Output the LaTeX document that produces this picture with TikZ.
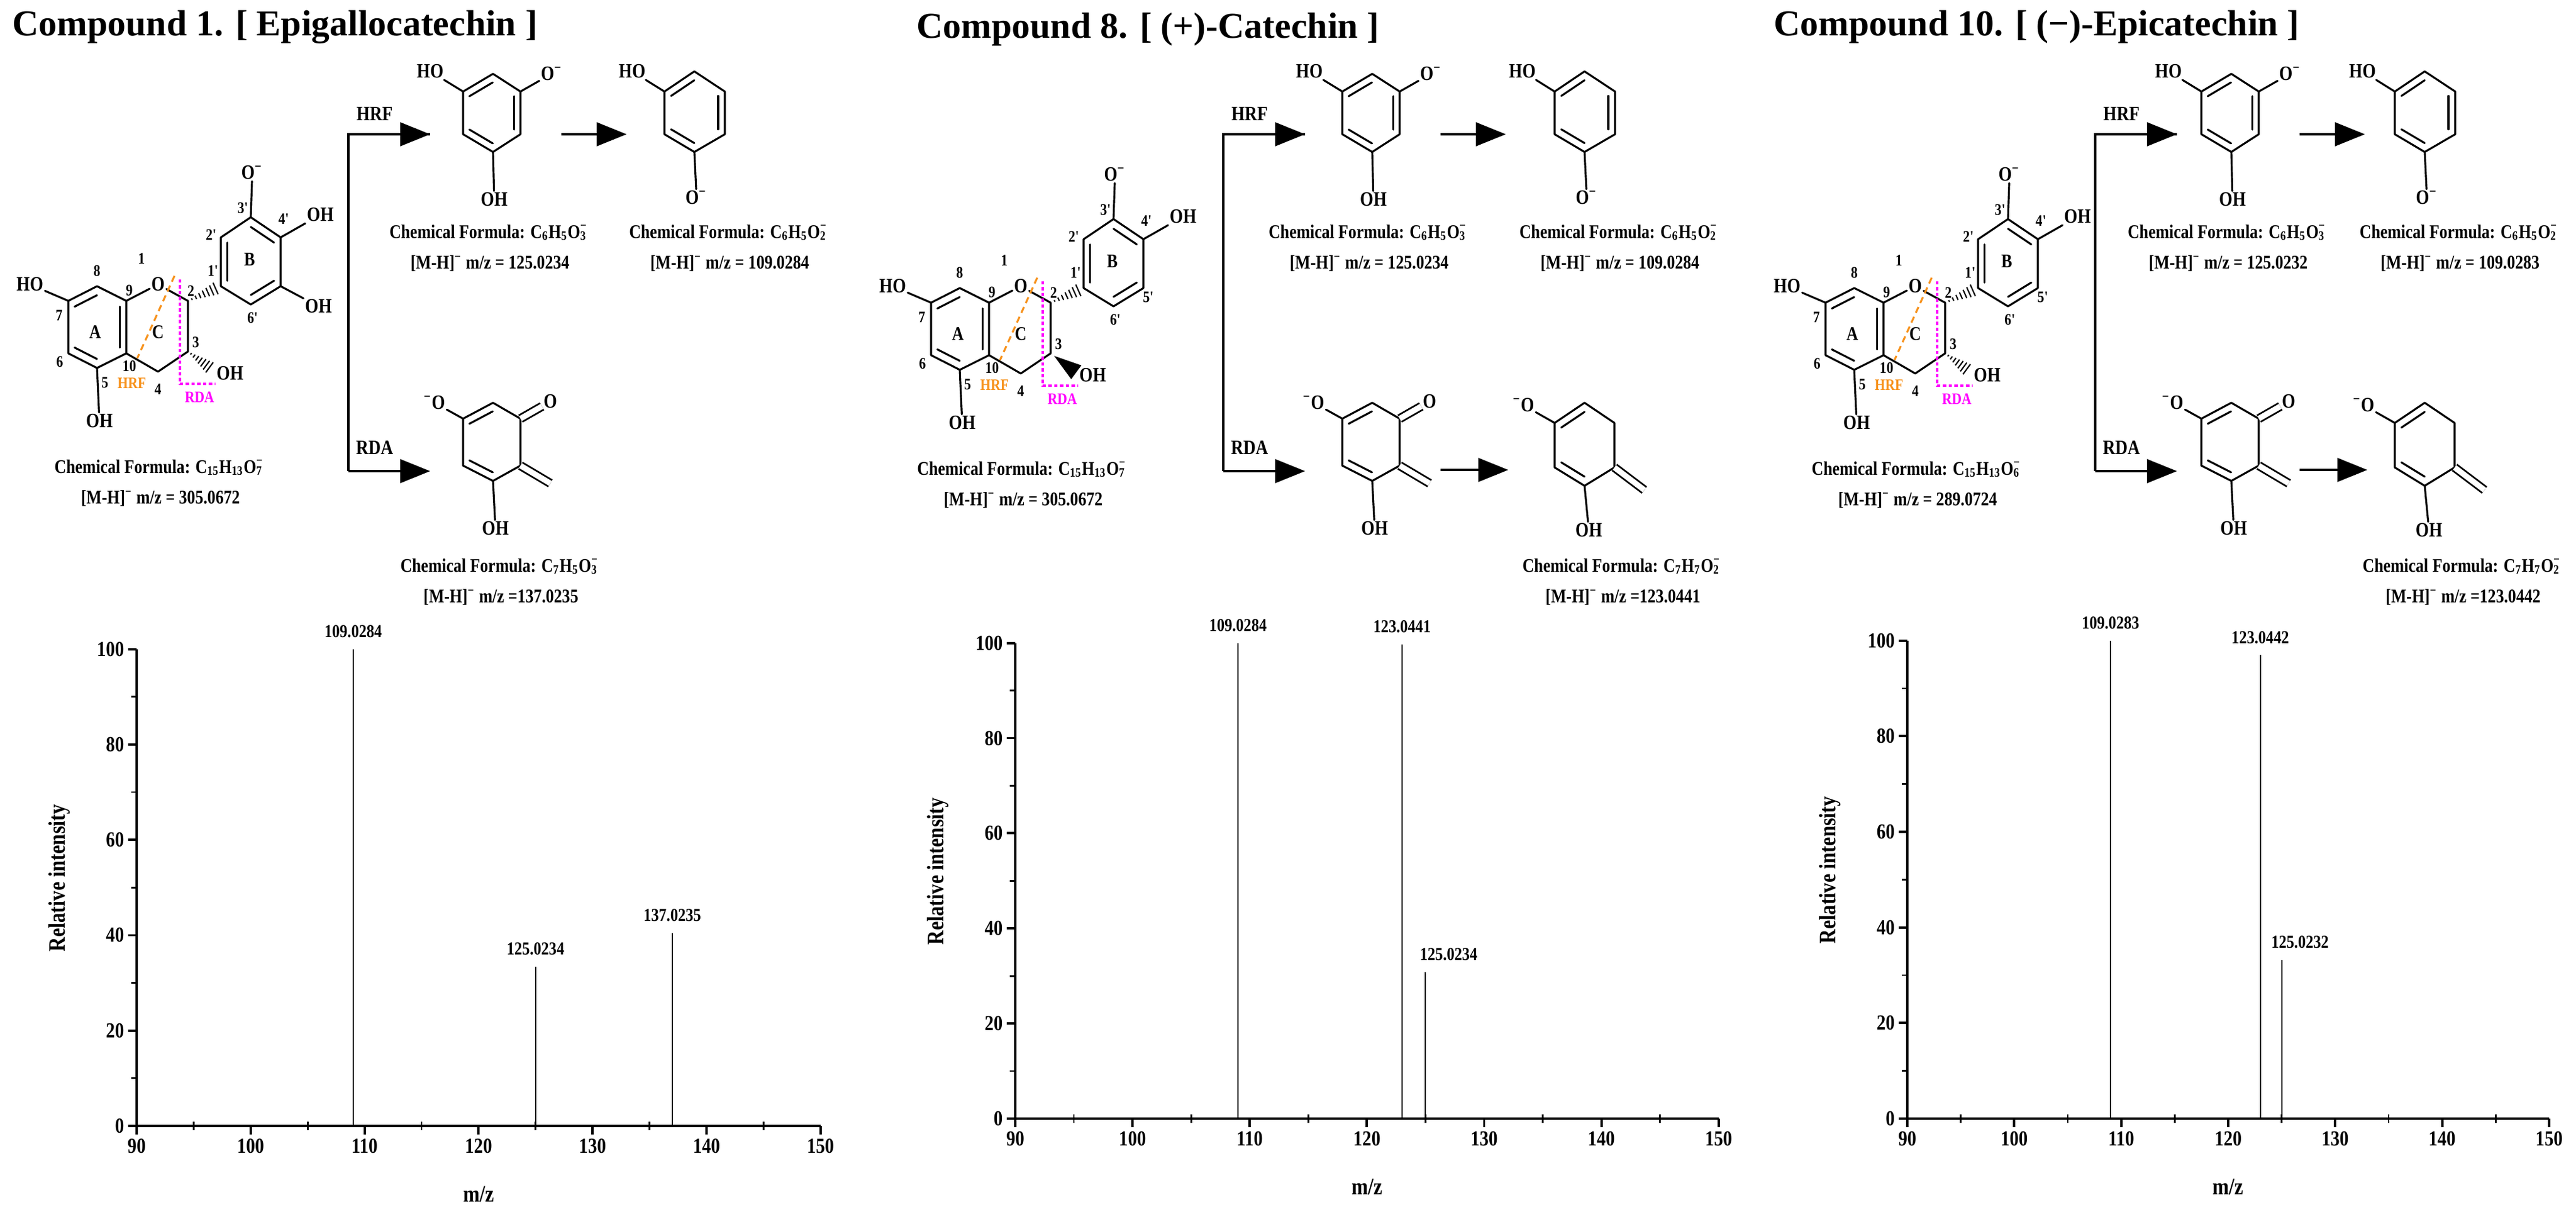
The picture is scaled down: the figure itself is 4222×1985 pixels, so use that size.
\documentclass[tikz,border=0pt]{standalone}
\usepackage{fontspec}
\setmainfont{Liberation Serif}
\newfontfamily\cond{Liberation Serif}[FakeStretch=0.84]
\usetikzlibrary{calc,arrows.meta}
\definecolor{hrfc}{RGB}{247,147,30}
\definecolor{rdac}{RGB}{255,0,255}
\newcommand\mns{\textsuperscript{\textminus}}
\newcommand\sbsp[2]{\rlap{\textsubscript{#1}}\textsuperscript{\textminus}\kern0.15em}
\newcommand\dbl[3]{\draw[bond] ($(#1)!.22!(#3)$) -- ($(#2)!.22!(#3)$);}
\newcommand\hashb[2]{\foreach \i in {0.12,0.24,...,0.96}{\path ($(#1)!\i!(#2)$) coordinate (hh); \draw[line width=0.6pt] ($(hh)!\i*3.5pt!90:(#2)$) -- ($(hh)!\i*3.5pt!-90:(#2)$);}}
\newcommand\formula[4]{\node[form] (f1) at (#1,#2) {Chemical Formula: #3}; \node[form] (f2) at (#1,#2+51) {[M-H]\mns{} m/z #4};}
\tikzset{
 bond/.style={line width=0.9pt,line cap=round,line join=round},
 dbond/.style={double,double distance=2.6pt,line width=0.8pt},
 lbl/.style={font=\cond\bfseries\fontsize{9.5}{10}\selectfont,inner sep=0.6pt},
 num/.style={font=\cond\bfseries\fontsize{7.5}{8}\selectfont,inner sep=0pt},
 form/.style={font=\cond\bfseries\fontsize{9}{10}\selectfont,inner sep=0pt},
 ttl/.style={font=\bfseries\fontsize{17}{18}\selectfont,anchor=west,inner sep=0pt},
 tick/.style={font=\cond\bfseries\fontsize{10}{11}\selectfont,inner sep=0pt},
 plab/.style={font=\cond\bfseries\fontsize{8.5}{9}\selectfont,inner sep=0pt,anchor=south,yshift=5pt},
 axl/.style={line width=1.1pt},
 peak/.style={line width=0.6pt},
 rarr/.style={line width=1.1pt,-{Triangle[length=14pt,width=11pt]}},
}
% main molecule: #1 variant 1=EGC,2=catechin,3=epicatechin; #2 formula; #3 mz
\newcommand\catechin[3]{%
\coordinate (c8) at (159,469); \coordinate (c9) at (207,493); \coordinate (c10) at (207,579);
\coordinate (c5) at (159,603); \coordinate (c6) at (112,579); \coordinate (c7) at (112,493);
\coordinate (ca) at (159,536);
\node[lbl] (o1) at (259,466) {O};
\coordinate (c2) at (308,493); \coordinate (c3) at (308,576); \coordinate (c4) at (259,609);
\coordinate (b1) at (362,469); \coordinate (b2) at (362,389); \coordinate (b3) at (411,356);
\coordinate (b4) at (460,389); \coordinate (b5) at (460,469); \coordinate (b6) at (411,499);
\coordinate (bc) at (411,428);
\draw[bond] (c7)--(c8)--(c9)--(c10)--(c5)--(c6)--cycle;
\dbl{c7}{c8}{ca}\dbl{c9}{c10}{ca}\dbl{c5}{c6}{ca}
\draw[bond] (c9)--(o1)--(c2)--(c3)--(c4)--(c10);
\draw[bond] (b1)--(b2)--(b3)--(b4)--(b5)--(b6)--cycle;
\dbl{b1}{b2}{bc}\dbl{b3}{b4}{bc}\dbl{b5}{b6}{bc}
\hashb{c2}{b1}
\node[lbl] (ho7) at (49,466) {HO}; \draw[bond] (c7)--(ho7);
\node[lbl] (oh5) at (163,690) {OH}; \draw[bond] (c5)--(oh5);
\node[lbl] (o3p) at (413,283) {O\mns}; \draw[bond] (b3)--(o3p.south);
\node[lbl] (oh4p) at (525,352) {OH}; \draw[bond] (b4)--(oh4p);
\ifnum#1=1 \node[lbl] (oh5p) at (522,502) {OH}; \draw[bond] (b5)--(oh5p);
\else \node[num] (n5p) at (468,484) {5'};\fi
\node[lbl] (oh3) at (377,612) {OH}; \coordinate (w) at (350,607);
\ifnum#1=2 \fill ($(c3)!2pt!(w)$) -- ($(w)!4pt!90:(c3)$) -- ($(w)!4pt!-90:(c3)$) -- cycle;
\else \hashb{c3}{w}\fi
\node[num] (n1) at (232,424) {1}; \node[num] (n8) at (159,444) {8};
\node[num] (n9) at (212,476) {9}; \node[num] (n7) at (97,517) {7};
\node[num,font=\cond\bfseries\fontsize{9}{9}\selectfont] (nA) at (156,544) {A};
\node[num,font=\cond\bfseries\fontsize{9}{9}\selectfont] (nC) at (259,544) {C};
\node[num,font=\cond\bfseries\fontsize{9}{9}\selectfont] (nB) at (409,425) {B};
\node[num] (n6) at (98,593) {6}; \node[num] (n10) at (212,600) {10};
\node[num] (n5) at (172,627) {5}; \node[num] (n4) at (259,638) {4};
\node[num] (n2) at (313,477) {2}; \node[num] (n3) at (321,561) {3};
\node[num] (n2p) at (346,385) {2'}; \node[num] (n1p) at (349,444) {1'};
\node[num] (n3p) at (398,341) {3'}; \node[num] (n4p) at (465,359) {4'};
\node[num] (n6p) at (414,521) {6'};
\node[num,text=hrfc] (hrf) at (216,628) {HRF};
\node[num,text=rdac] (rda) at (327,651) {RDA};
\draw[hrfc,line width=0.9pt,dashed,dash pattern=on 3pt off 2pt] (286,452) -- (225,587);
\draw[rdac,line width=0.9pt,dash pattern=on 1.5pt off 1.2pt] (295,458) -- (295,629) -- (353,629);
\formula{263}{766}{#2}{#3}
}
\newcommand\arrowgroup{%
\coordinate (v1) at (571,220); \coordinate (v2) at (571,772);
\coordinate (t1) at (705,220); \coordinate (t2) at (705,772);
\draw[line width=1.1pt] (t1) -- (v1) -- (v2);
\draw[rarr] (v1) -- (t1); \draw[rarr] (v2) -- (t2);
\node[lbl] (lh) at (614,187) {HRF}; \node[lbl] (lr) at (614,733) {RDA};
}
% #1 mz1, #2 rda formula, #3 rda mz, #4 =1: second rda arrow, no formula under RDA product 1
\newcommand\prodone[4]{%
\coordinate (p1) at (808,121); \coordinate (p2) at (853,150); \coordinate (p3) at (853,220);
\coordinate (p4) at (808,249); \coordinate (p5) at (759,220); \coordinate (p6) at (759,150); \coordinate (pc) at (806,185);
\draw[bond] (p1)--(p2)--(p3)--(p4)--(p5)--(p6)--cycle;
\dbl{p2}{p3}{pc}\dbl{p4}{p5}{pc}\dbl{p6}{p1}{pc}
\node[lbl] (pho) at (705,117) {HO}; \draw[bond] (p6)--(pho);
\node[lbl] (pom) at (904,121) {O\mns}; \draw[bond] (p2)--(pom);
\node[lbl] (poh) at (810,327) {OH}; \draw[bond] (p4)--(poh);
\formula{803}{381}{C\textsubscript{6}H\textsubscript{5}O\sbsp{3}{-}}{= #1}
\coordinate (m1) at (920,220); \coordinate (m2) at (1027,220); \draw[rarr] (m1) -- (m2);
\coordinate (r1) at (808,660); \coordinate (r2) at (853,686); \coordinate (r3) at (853,763);
\coordinate (r4) at (808,788); \coordinate (r5) at (759,763); \coordinate (r6) at (759,686); \coordinate (rc) at (806,724);
\draw[bond] (r1)--(r2)--(r3)--(r4)--(r5)--(r6)--cycle;
\dbl{r6}{r1}{rc}\dbl{r4}{r5}{rc}
\node[lbl] (rom) at (712,660) {\mns O}; \draw[bond] (r6)--(rom);
\node[lbl] (rco) at (902,658) {O}; \draw[dbond] (r2)--(rco);
\coordinate (rex) at (902,792); \draw[dbond] (r3)--(rex);
\node[lbl] (roh) at (812,866) {OH}; \draw[bond] (r4)--(roh);
\ifnum#4=1 \coordinate (m3) at (920,770); \coordinate (m4) at (1031,770); \draw[rarr] (m3) -- (m4);
\else \formula{821}{928}{#2}{#3}\fi
}
% HRF product 2 ; #1 mz ; #2 show RDA2 ; #3 rda2 mz
\newcommand\prodtwo[3]{%
\coordinate (q1) at (1138,117); \coordinate (q2) at (1188,150); \coordinate (q3) at (1188,220);
\coordinate (q4) at (1138,249); \coordinate (q5) at (1089,220); \coordinate (q6) at (1089,150); \coordinate (qc) at (1138,183);
\draw[bond] (q1)--(q2)--(q3)--(q4)--(q5)--(q6)--cycle;
\dbl{q2}{q3}{qc}\dbl{q4}{q5}{qc}\dbl{q6}{q1}{qc}
\node[lbl] (qho) at (1036,117) {HO}; \draw[bond] (q6)--(qho);
\node[lbl] (qom) at (1141,324) {O\mns}; \draw[bond] (q4)--(qom.north);
\formula{1196}{381}{C\textsubscript{6}H\textsubscript{5}O\sbsp{2}{-}}{= #1}
\ifnum#2=1
\coordinate (s1) at (1138,660); \coordinate (s2) at (1187,693); \coordinate (s3) at (1187,766);
\coordinate (s4) at (1138,796); \coordinate (s5) at (1089,766); \coordinate (s6) at (1089,693); \coordinate (sc) at (1138,728);
\draw[bond] (s1)--(s2)--(s3)--(s4)--(s5)--(s6)--cycle;
\dbl{s6}{s1}{sc}\dbl{s4}{s5}{sc}
\node[lbl] (som) at (1038,664) {\mns O}; \draw[bond] (s6)--(som);
\coordinate (sex) at (1236,803); \draw[dbond] (s3)--(sex);
\node[lbl] (soh) at (1145,869) {OH}; \draw[bond] (s4)--(soh);
\formula{1201}{928}{C\textsubscript{7}H\textsubscript{7}O\sbsp{2}{-}}{=#3}
\fi
}
\newcommand\axes{%
\draw[axl] (0,100) -- (0,0) -- (60,0);
\foreach \v in {0,10,...,60}{\pgfmathtruncatemacro\lab{90+\v}
 \draw[axl] (\v,0) -- ++(0,-4pt); \node[tick] (xt\v) at ([yshift=-0.33cm]\v,0) {\lab};}
\foreach \v in {5,15,...,55}{\draw[line width=0.8pt] ([yshift=-2pt]\v,0) -- ++(0,4pt);}
\foreach \v in {0,20,...,100}{\draw[axl] (0,\v) -- ++(-4pt,0); \node[tick,anchor=east] (yt\v) at ([xshift=-0.2cm]0,\v) {\v};}
\foreach \v in {10,30,...,90}{\draw[line width=0.8pt] (0,\v) -- ++(-2.5pt,0);}
\node[tick,rotate=90,font=\cond\bfseries\fontsize{11}{12}\selectfont] (ylab) at ([xshift=-1.27cm]0,52) {Relative intensity};
\node[tick,font=\cond\bfseries\fontsize{11}{12}\selectfont] (xlab) at ([yshift=-1.12cm]30,0) {m/z};
}
\begin{document}
\begin{tikzpicture}[x=0.01cm,y=-0.01cm]
\useasboundingbox (0,0) rectangle (4222,1985);
\fill[white] (0,0) rectangle (4222,1985);
\node[ttl] (T1) at (20,44) {Compound 1. [ Epigallocatechin ]};
\node[ttl] (T2) at (1502,48) {Compound 8. [ (+)-Catechin ]};
\node[ttl] (T3) at (2907,44) {Compound 10. [ (\textminus)-Epicatechin ]};
% panel 1
\catechin{1}{C\textsubscript{15}H\textsubscript{13}O\sbsp{7}{-}}{= 305.0672}
\arrowgroup
\prodone{125.0234}{C\textsubscript{7}H\textsubscript{5}O\sbsp{3}{-}}{=137.0235}{0}
\prodtwo{109.0284}{0}{}
% panel 2
\begin{scope}[shift={(1414,3)}]\catechin{2}{C\textsubscript{15}H\textsubscript{13}O\sbsp{7}{-}}{= 305.0672}\end{scope}
\begin{scope}[shift={(1434,0)}]\arrowgroup\end{scope}
\begin{scope}[shift={(1441,0)}]\prodone{125.0234}{}{}{1}\end{scope}
\begin{scope}[shift={(1459,0)}]\prodtwo{109.0284}{1}{123.0441}\end{scope}
% panel 3
\begin{scope}[shift={(2880,3)}]\catechin{3}{C\textsubscript{15}H\textsubscript{13}O\sbsp{6}{-}}{= 289.0724}\end{scope}
\begin{scope}[shift={(2863,0)}]\arrowgroup\end{scope}
\begin{scope}[shift={(2849,0)}]\prodone{125.0232}{}{}{1}\end{scope}
\begin{scope}[shift={(2836,0)}]\prodtwo{109.0283}{1}{123.0442}\end{scope}
% charts
\begin{scope}[shift={(224,1845)},x=0.18667cm,y=0.0781cm]
\axes
\draw[peak] (19,0) -- (19,100) node[plab] (pk1) {109.0284};
\draw[peak] (35,0) -- (35,33.4) node[plab] (pk2) {125.0234};
\draw[peak] (47,0) -- (47,40.5) node[plab] (pk3) {137.0235};
\end{scope}
\begin{scope}[shift={(1664,1833)},x=0.192cm,y=0.0779cm]
\axes
\draw[peak] (19,0) -- (19,100) node[plab] (pk4) {109.0284};
\draw[peak] (33,0) -- (33,99.7) node[plab] (pk5) {123.0441};
\draw[peak] (35,0) -- (35,30.8) node[plab,xshift=0.38cm] (pk6) {125.0234};
\end{scope}
\begin{scope}[shift={(3126,1833)},x=0.1752cm,y=0.0783cm]
\axes
\draw[peak] (19,0) -- (19,100) node[plab] (pk7) {109.0283};
\draw[peak] (33,0) -- (33,97) node[plab] (pk8) {123.0442};
\draw[peak] (35,0) -- (35,33.2) node[plab,xshift=0.3cm] (pk9) {125.0232};
\end{scope}
\end{tikzpicture}
\end{document}
